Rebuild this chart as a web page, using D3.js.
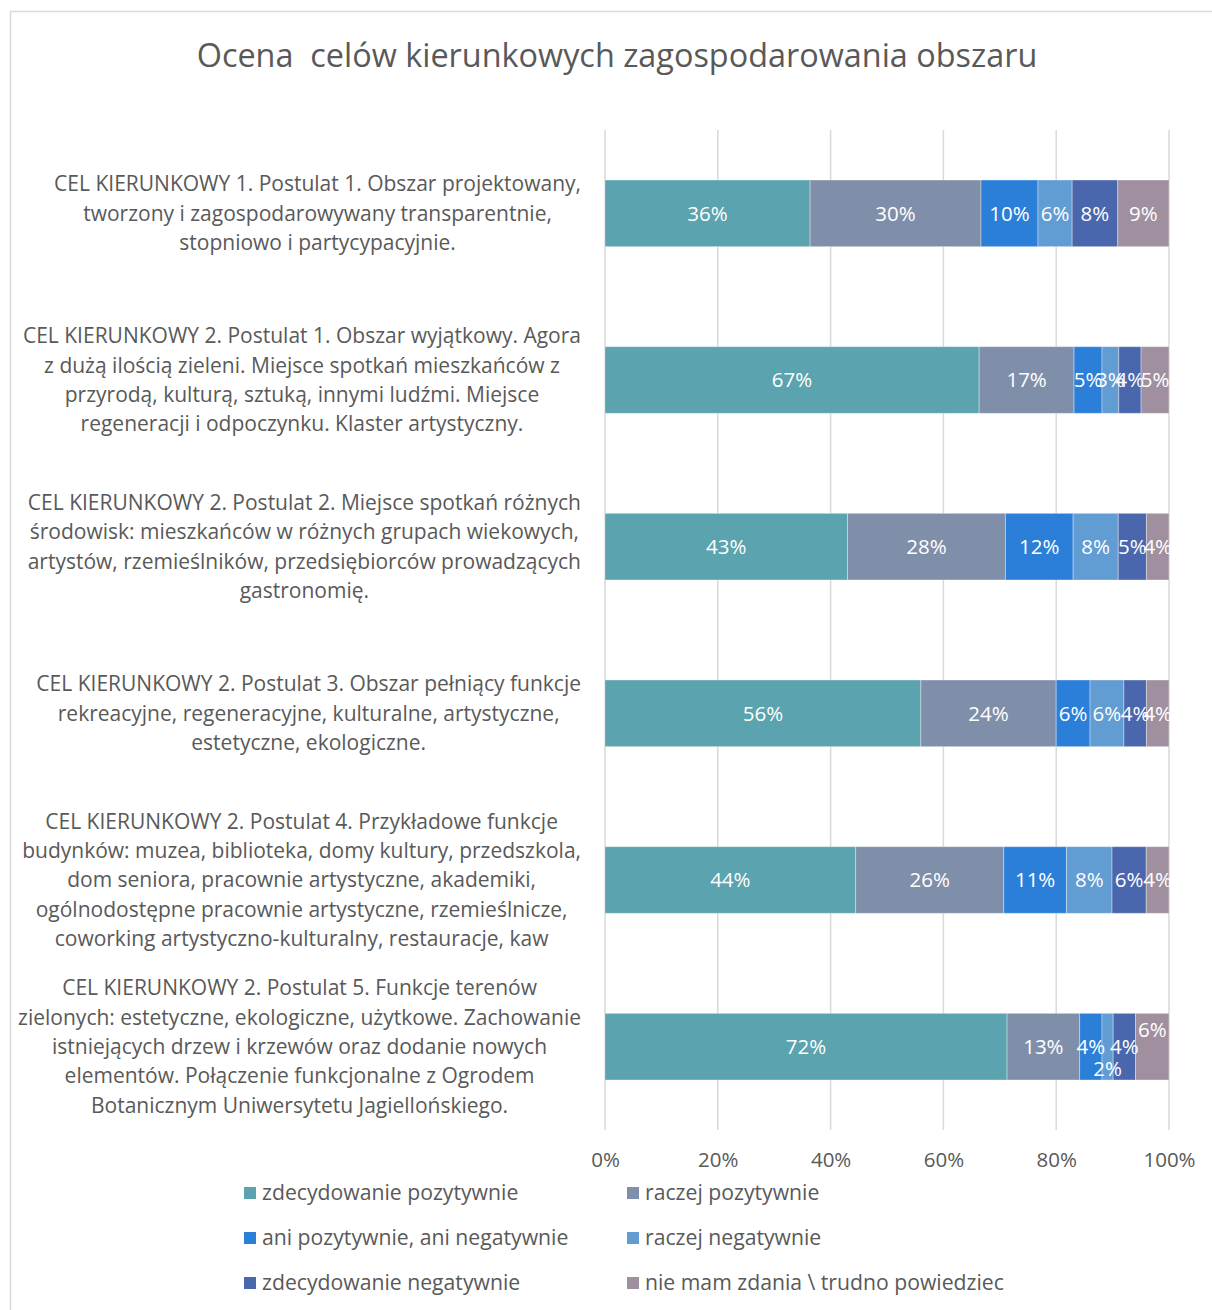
<!DOCTYPE html>
<html>
<head>
<meta charset="utf-8">
<script src="https://cdn.jsdelivr.net/npm/d3@7"></script>
<style>
  html, body { margin: 0; padding: 0; background: #fff; }
  svg { display: block; }
  text { font-family: "Open Sans", "Noto Sans", sans-serif; }
</style>
</head>
<body>
<svg id="chart" width="1212" height="1310"></svg>
<script>
// Survey categories (line breaks as shown on the axis)
const categories = [
  "CEL KIERUNKOWY 1. Postulat 1. Obszar projektowany,\ntworzony i zagospodarowywany transparentnie,\nstopniowo i partycypacyjnie.",
  "CEL KIERUNKOWY 2. Postulat 1. Obszar wyjątkowy. Agora\nz dużą ilością zieleni. Miejsce spotkań mieszkańców z\nprzyrodą, kulturą, sztuką, innymi ludźmi. Miejsce\nregeneracji i odpoczynku. Klaster artystyczny.",
  "CEL KIERUNKOWY 2. Postulat 2. Miejsce spotkań różnych\nśrodowisk: mieszkańców w różnych grupach wiekowych,\nartystów, rzemieślników, przedsiębiorców prowadzących\ngastronomię.",
  "CEL KIERUNKOWY 2. Postulat 3. Obszar pełniący funkcje\nrekreacyjne, regeneracyjne, kulturalne, artystyczne,\nestetyczne, ekologiczne.",
  "CEL KIERUNKOWY 2. Postulat 4. Przykładowe funkcje\nbudynków: muzea, biblioteka, domy kultury, przedszkola,\ndom seniora, pracownie artystyczne, akademiki,\nogólnodostępne pracownie artystyczne, rzemieślnicze,\ncoworking artystyczno-kulturalny, restauracje, kaw",
  "CEL KIERUNKOWY 2. Postulat 5. Funkcje terenów\nzielonych: estetyczne, ekologiczne, użytkowe. Zachowanie\nistniejących drzew i krzewów oraz dodanie nowych\nelementów. Połączenie funkcjonalne z Ogrodem\nBotanicznym Uniwersytetu Jagiellońskiego."
];

// Answer options (series)
const seriesNames = [
  "zdecydowanie pozytywnie",
  "raczej pozytywnie",
  "ani pozytywnie, ani negatywnie",
  "raczej negatywnie",
  "zdecydowanie negatywnie",
  "nie mam zdania \\ trudno powiedziec"
];

// Shares in percent, one array per answer option, in category order
const zdecydowaniePozytywnie = [36, 67, 43, 56, 44, 72];
const raczejPozytywnie       = [30, 17, 28, 24, 26, 13];
const aniAni                 = [10,  5, 12,  6, 11,  4];
const raczejNegatywnie       = [ 6,  3,  8,  6,  8,  2];
const zdecydowanieNegatywnie = [ 8,  4,  5,  4,  6,  4];
const nieMamZdania           = [ 9,  5,  4,  4,  4,  6];

const tickValues = [0, 0.2, 0.4, 0.6, 0.8, 1.0];

const colors = ["#5ba3ae", "#7f8fa9", "#2b7fd9", "#619cd3", "#4a67ae", "#a0909f"];

const seriesValues = [zdecydowaniePozytywnie, raczejPozytywnie, aniAni,
                      raczejNegatywnie, zdecydowanieNegatywnie, nieMamZdania];

const table = categories.map((c, i) => {
  const row = { category: c };
  seriesNames.forEach((s, j) => { row[s] = seriesValues[j][i]; });
  return row;
});

const svg = d3.select("#chart");
const textColor = "#595959";

// chart frame
svg.append("rect")
  .attr("x", 10.5).attr("y", 11.5)
  .attr("width", 1220).attr("height", 1320)
  .attr("fill", "#fff")
  .attr("stroke", "#d9d9d9").attr("stroke-width", 1.5);

// title
svg.append("text")
  .attr("x", 617).attr("y", 67)
  .attr("text-anchor", "middle")
  .attr("fill", textColor)
  .attr("font-size", 32.4)
  .style("white-space", "pre")
  .text("Ocena  celów kierunkowych zagospodarowania obszaru");

const x = d3.scaleLinear().domain([0, 1]).range([605, 1169]);
const y = d3.scaleBand().domain(categories).range([130, 1130])
  .paddingInner(0.6).paddingOuter(0.3);

// gridlines
svg.append("g").selectAll("line")
  .data(tickValues).join("line")
  .attr("x1", d => x(d)).attr("x2", d => x(d))
  .attr("y1", 130).attr("y2", 1130)
  .attr("stroke", "#d9d9d9").attr("stroke-width", 1.5);

// x axis tick labels
const xAxis = d3.axisBottom(x).tickValues(tickValues)
  .tickFormat(d3.format(".0%")).tickSize(0).tickPadding(0);
const gx = svg.append("g").attr("transform", "translate(0,1152)").call(xAxis);
gx.select(".domain").remove();
gx.selectAll("text")
  .attr("fill", textColor)
  .attr("font-size", 20.5)
  .attr("font-family", "'Open Sans', sans-serif");

// stacked (100%) layout
const stack = d3.stack().keys(seriesNames).offset(d3.stackOffsetExpand);
const layers = stack(table);

const layerG = svg.append("g").selectAll("g")
  .data(layers).join("g")
  .attr("fill", (d, i) => colors[i]);

layerG.selectAll("rect")
  .data(d => d)
  .join("rect")
  .attr("x", d => x(d[0]))
  .attr("y", d => y(d.data.category))
  .attr("width", d => x(d[1]) - x(d[0]))
  .attr("height", y.bandwidth())
  .attr("stroke", "#ffffff").attr("stroke-opacity", 0.35).attr("stroke-width", 1);

// data labels
const labelG = svg.append("g");
layers.forEach((layer, j) => {
  layer.forEach((d, i) => {
    let lx = (x(d[0]) + x(d[1])) / 2;
    let ly = y(d.data.category) + y.bandwidth() / 2;
    // last row: small segments are nudged apart so their labels do not collide
    if (i === 5 && j === 3) ly += 22;
    if (i === 5 && j === 5) ly -= 17;
    labelG.append("text")
      .attr("x", lx).attr("y", ly)
      .attr("dy", "0.35em")
      .attr("text-anchor", "middle")
      .attr("fill", "#ffffff")
      .attr("font-size", 20.5)
      .text(seriesValues[j][i] + "%");
  });
});

// category labels: centred lines, block right-aligned against the plot
const catG = svg.append("g");
categories.forEach(c => {
  const lines = c.split("\n");
  const lh = 29.3;
  const cy = y(c) + y.bandwidth() / 2;
  const g = catG.append("g");
  const t = g.append("text")
    .attr("text-anchor", "middle")
    .attr("fill", textColor)
    .attr("font-size", 21);
  lines.forEach((ln, k) => {
    t.append("tspan")
      .attr("x", 0)
      .attr("y", cy + (k - (lines.length - 1) / 2) * lh)
      .attr("dy", "0.35em")
      .text(ln);
  });
  const bb = t.node().getBBox();
  g.attr("transform", `translate(${581 - (bb.x + bb.width)},0)`);
});

// legend
const legendPos = [
  [244, 1193], [627, 1193],
  [244, 1238], [627, 1238],
  [244, 1283], [627, 1283]
];
const lg = svg.append("g");
seriesNames.forEach((s, i) => {
  const [lx, ly] = legendPos[i];
  lg.append("rect")
    .attr("x", lx).attr("y", ly - 6)
    .attr("width", 12).attr("height", 12)
    .attr("fill", colors[i]);
  lg.append("text")
    .attr("x", lx + 18).attr("y", ly)
    .attr("dy", "0.35em")
    .attr("fill", textColor)
    .attr("font-size", 21.2)
    .text(s);
});
</script>
</body>
</html>
